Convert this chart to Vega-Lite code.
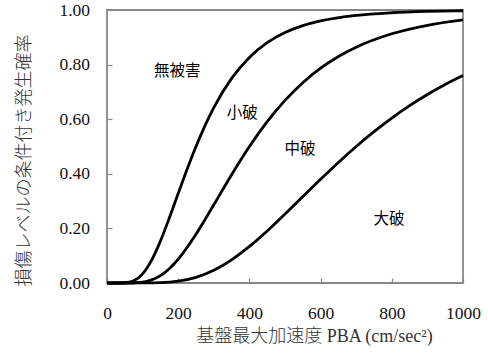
{
  "$schema": "https://vega.github.io/schema/vega-lite/v6.json",
  "autosize": {"type": "none"},
  "padding": {"left": 107, "top": 10, "right": 25, "bottom": 73},
  "width": 356,
  "height": 273,
  "background": "white",
  "config": {
    "view": {"stroke": "#878787", "strokeWidth": 1.8},
    "axis": {
      "domain": false,
      "grid": false,
      "tickColor": "#878787",
      "tickWidth": 1.2,
      "tickSize": -5,
      "labelFont": "Liberation Serif",
      "labelFontSize": 17.5,
      "labelColor": "#111",
      "titleFontWeight": 300,
      "titleColor": "#333"
    }
  },
  "datasets": {
    "curves": [
      {"pba": 0, "p": 0, "limit": "no_damage"},
      {"pba": 50, "p": 0.001, "limit": "no_damage"},
      {"pba": 75, "p": 0.008, "limit": "no_damage"},
      {"pba": 100, "p": 0.0334, "limit": "no_damage"},
      {"pba": 125, "p": 0.0828, "limit": "no_damage"},
      {"pba": 150, "p": 0.1535, "limit": "no_damage"},
      {"pba": 175, "p": 0.2379, "limit": "no_damage"},
      {"pba": 200, "p": 0.3277, "limit": "no_damage"},
      {"pba": 225, "p": 0.4165, "limit": "no_damage"},
      {"pba": 250, "p": 0.5, "limit": "no_damage"},
      {"pba": 275, "p": 0.5756, "limit": "no_damage"},
      {"pba": 300, "p": 0.6424, "limit": "no_damage"},
      {"pba": 350, "p": 0.7495, "limit": "no_damage"},
      {"pba": 400, "p": 0.8264, "limit": "no_damage"},
      {"pba": 450, "p": 0.8802, "limit": "no_damage"},
      {"pba": 500, "p": 0.9172, "limit": "no_damage"},
      {"pba": 550, "p": 0.9426, "limit": "no_damage"},
      {"pba": 600, "p": 0.96, "limit": "no_damage"},
      {"pba": 700, "p": 0.9803, "limit": "no_damage"},
      {"pba": 800, "p": 0.99, "limit": "no_damage"},
      {"pba": 900, "p": 0.9948, "limit": "no_damage"},
      {"pba": 1000, "p": 0.9972, "limit": "no_damage"},

      {"pba": 0, "p": 0, "limit": "minor"},
      {"pba": 50, "p": 0, "limit": "minor"},
      {"pba": 100, "p": 0.0033, "limit": "minor"},
      {"pba": 125, "p": 0.0113, "limit": "minor"},
      {"pba": 150, "p": 0.0272, "limit": "minor"},
      {"pba": 175, "p": 0.0525, "limit": "minor"},
      {"pba": 200, "p": 0.0871, "limit": "minor"},
      {"pba": 250, "p": 0.1784, "limit": "minor"},
      {"pba": 300, "p": 0.2863, "limit": "minor"},
      {"pba": 350, "p": 0.3967, "limit": "minor"},
      {"pba": 400, "p": 0.5, "limit": "minor"},
      {"pba": 450, "p": 0.5913, "limit": "minor"},
      {"pba": 500, "p": 0.6691, "limit": "minor"},
      {"pba": 550, "p": 0.7338, "limit": "minor"},
      {"pba": 600, "p": 0.7867, "limit": "minor"},
      {"pba": 650, "p": 0.8295, "limit": "minor"},
      {"pba": 700, "p": 0.8637, "limit": "minor"},
      {"pba": 800, "p": 0.9129, "limit": "minor"},
      {"pba": 900, "p": 0.9441, "limit": "minor"},
      {"pba": 1000, "p": 0.9638, "limit": "minor"},

      {"pba": 0, "p": 0, "limit": "moderate"},
      {"pba": 100, "p": 0.0001, "limit": "moderate"},
      {"pba": 150, "p": 0.0011, "limit": "moderate"},
      {"pba": 200, "p": 0.0065, "limit": "moderate"},
      {"pba": 250, "p": 0.0207, "limit": "moderate"},
      {"pba": 300, "p": 0.0467, "limit": "moderate"},
      {"pba": 350, "p": 0.0849, "limit": "moderate"},
      {"pba": 400, "p": 0.1339, "limit": "moderate"},
      {"pba": 450, "p": 0.1908, "limit": "moderate"},
      {"pba": 500, "p": 0.2527, "limit": "moderate"},
      {"pba": 550, "p": 0.3165, "limit": "moderate"},
      {"pba": 600, "p": 0.3801, "limit": "moderate"},
      {"pba": 650, "p": 0.4417, "limit": "moderate"},
      {"pba": 700, "p": 0.5, "limit": "moderate"},
      {"pba": 750, "p": 0.5543, "limit": "moderate"},
      {"pba": 800, "p": 0.6043, "limit": "moderate"},
      {"pba": 850, "p": 0.6497, "limit": "moderate"},
      {"pba": 900, "p": 0.6907, "limit": "moderate"},
      {"pba": 950, "p": 0.7273, "limit": "moderate"},
      {"pba": 1000, "p": 0.76, "limit": "moderate"}
    ],
    "states": [
      {"pba": 197, "p": 0.776, "name": "無被害"},
      {"pba": 380, "p": 0.623, "name": "小破"},
      {"pba": 542, "p": 0.492, "name": "中破"},
      {"pba": 792, "p": 0.235, "name": "大破"}
    ]
  },
  "encoding": {
    "x": {
      "field": "pba",
      "type": "quantitative",
      "scale": {"domain": [0, 1000], "nice": false},
      "axis": {
        "values": [0, 200, 400, 600, 800, 1000],
        "format": "d",
        "labelFlush": false,
        "labelPadding": 26,
        "title": "基盤最大加速度 PBA (cm/sec²)",
        "titleFont": "Liberation Serif, Noto Sans CJK JP",
        "titleFontSize": 18,
        "titleX": 207,
        "titleY": 53,
        "titleBaseline": "middle",
        "titleAnchor": "middle"
      }
    },
    "y": {
      "field": "p",
      "type": "quantitative",
      "scale": {"domain": [0, 1], "nice": false},
      "axis": {
        "values": [0, 0.2, 0.4, 0.6, 0.8, 1],
        "format": ".2f",
        "labelPadding": 22.5,
        "title": "損傷レベルの条件付き発生確率",
        "titleFont": "Noto Sans CJK JP",
        "titleFontSize": 18,
        "titleX": -83,
        "titleY": 150,
        "titleBaseline": "middle",
        "titleAnchor": "middle"
      }
    }
  },
  "layer": [
    {
      "data": {"name": "curves"},
      "mark": {"type": "line", "color": "black", "strokeWidth": 2.8, "interpolate": "monotone"},
      "encoding": {"detail": {"field": "limit"}}
    },
    {
      "data": {"name": "states"},
      "mark": {"type": "text", "font": "Noto Sans CJK JP", "fontSize": 15.5, "color": "black", "align": "center", "baseline": "middle"},
      "encoding": {"text": {"field": "name"}}
    }
  ]
}
